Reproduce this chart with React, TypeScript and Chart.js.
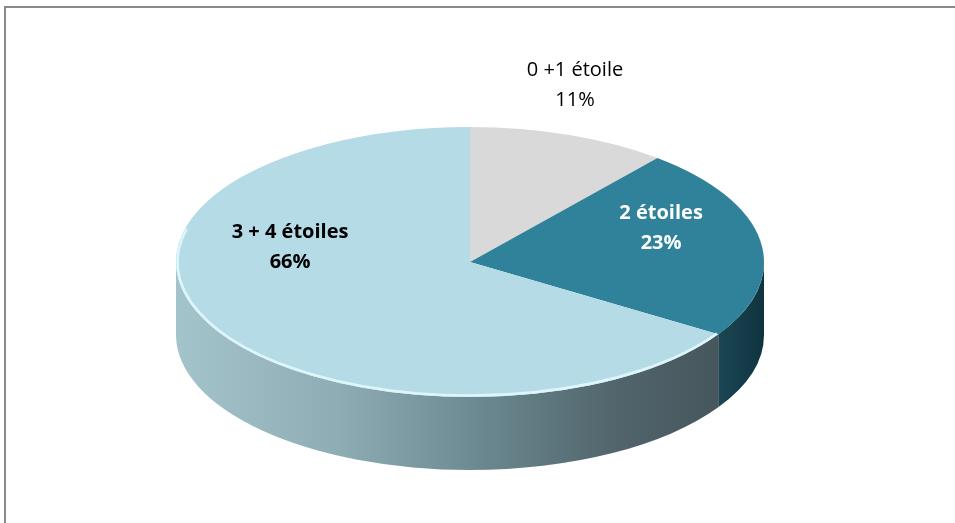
import React, { useEffect, useRef } from "react";
import { Chart, registerables } from "chart.js";

Chart.register(...registerables);

// ---- data ----
const categories = ["0 +1 étoile", "2 étoiles", "3 + 4 étoiles"];
const values = [11, 23, 66];
const topColors = ["#d9d9d9", "#2f8299", "#b5dbe6"];
const labelColors = ["#000000", "#ffffff", "#000000"];
const labelBold = [false, true, true];

// ---- geometry of the tilted pie on screen ----
const GEO = { cx: 470, cy: 262, rx: 294, ry: 135, depth: 73 };
// label anchor as fractions of rx / ry from the ellipse centre
const LABEL_POS = [
  [0.357, -1.31],
  [0.65, -0.25],
  [-0.612, -0.11],
];

const pie3d = {
  id: "pie3d",
  beforeDraw(chart: any) {
    const ctx = chart.ctx;
    ctx.save();
    ctx.fillStyle = "#ffffff";
    ctx.fillRect(0, 0, chart.width, chart.height);
    ctx.strokeStyle = "#8a8a8a";
    ctx.lineWidth = 2;
    ctx.strokeRect(5, 7, 1400, 900);
    ctx.restore();
  },
  beforeDatasetsDraw(chart: any) {
    const ctx = chart.ctx;
    const meta = chart.getDatasetMeta(0);
    const { cx, cy, rx, ry, depth } = GEO;
    meta.data.forEach((arc: any, i: number) => {
      const s = Math.max(arc.startAngle, 0);
      const e = Math.min(arc.endAngle, Math.PI);
      if (e <= s) return;
      ctx.save();
      ctx.beginPath();
      ctx.ellipse(cx, cy, rx, ry, 0, s, e, false);
      ctx.ellipse(cx, cy + depth, rx, ry, 0, e, s, true);
      ctx.closePath();
      if (i === 2) {
        const g = ctx.createLinearGradient(cx - rx, 0, cx + rx * Math.cos(s), 0);
        g.addColorStop(0, "#a4c4cc");
        g.addColorStop(0.3, "#8eacb4");
        g.addColorStop(0.55, "#6c8a92");
        g.addColorStop(0.8, "#52666d");
        g.addColorStop(1, "#46565c");
        ctx.fillStyle = g;
      } else if (i === 1) {
        const g = ctx.createLinearGradient(cx + rx * Math.cos(e), 0, cx + rx, 0);
        g.addColorStop(0, "#1b4653");
        g.addColorStop(1, "#0f3440");
        ctx.fillStyle = g;
      } else {
        ctx.fillStyle = "#a6a6a6";
      }
      ctx.fill();
      ctx.restore();
    });
    const a = meta.data[0];
    const r = a.outerRadius;
    ctx.save();
    ctx.translate(cx, cy);
    ctx.scale(rx / r, ry / r);
    ctx.translate(-a.x, -a.y);
  },
  afterDatasetsDraw(chart: any) {
    const ctx = chart.ctx;
    ctx.restore();
    const { cx, cy, rx, ry } = GEO;
    const meta = chart.getDatasetMeta(0);
    // light rim along front/left edge of the big slice
    const big = meta.data[2];
    ctx.save();
    ctx.beginPath();
    ctx.ellipse(cx, cy, rx - 1.5, ry - 1.5, 0, Math.max(big.startAngle, 0.3), Math.PI * 1.08, false);
    ctx.strokeStyle = "rgba(222,248,253,0.95)";
    ctx.lineWidth = 2.5;
    ctx.stroke();
    ctx.restore();

    // labels
    const total = values.reduce((p, v) => p + v, 0);
    ctx.save();
    ctx.textAlign = "center";
    ctx.textBaseline = "middle";
    categories.forEach((name, i) => {
      const [fx, fy] = LABEL_POS[i];
      const x = cx + fx * rx;
      const y = cy + fy * ry;
      ctx.font = `${labelBold[i] ? "bold " : ""}20px "Open Sans"`;
      ctx.fillStyle = labelColors[i];
      ctx.fillText(name, x, y - 15);
      ctx.fillText(Math.round((values[i] / total) * 100) + "%", x, y + 15);
    });
    ctx.restore();
  },
};

export default function App() {
  const ref = useRef<HTMLCanvasElement | null>(null);
  useEffect(() => {
    if (!ref.current) return;
    const chart = new Chart(ref.current, {
      type: "pie",
      data: {
        labels: categories,
        datasets: [
          {
            data: values,
            backgroundColor: topColors,
            borderWidth: 0,
          },
        ],
      },
      options: {
        responsive: false,
        animation: false,
        devicePixelRatio: 1,
        events: [],
        layout: { padding: 0 },
        plugins: {
          legend: { display: false },
          tooltip: { enabled: false },
        },
      },
      plugins: [pie3d],
    });
    return () => chart.destroy();
  }, []);
  return (
    <div style={{ position: "absolute", left: 0, top: 0, width: 955, height: 523 }}>
      <canvas ref={ref} width={955} height={523} style={{ display: "block" }} />
    </div>
  );
}
